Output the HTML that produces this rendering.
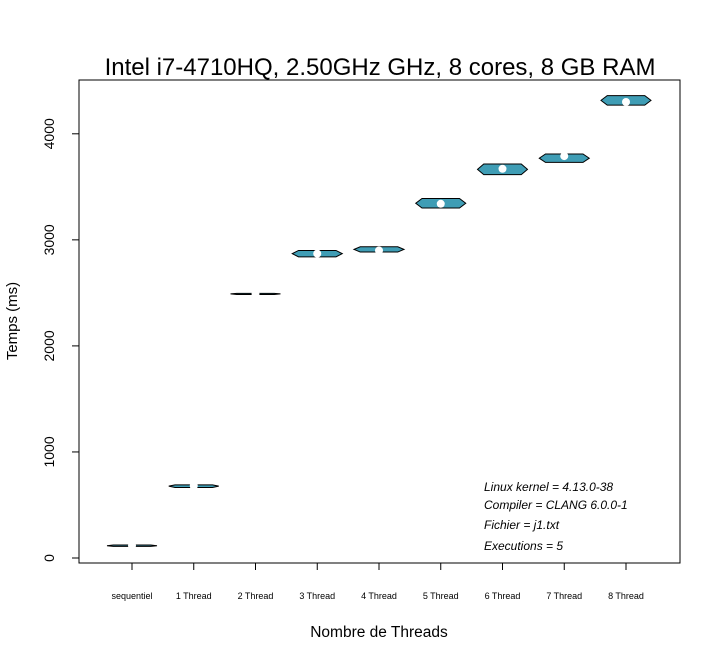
<!DOCTYPE html>
<html><head><meta charset="utf-8"><style>
body{margin:0;background:#fff;font-family:"Liberation Sans",sans-serif}
</style></head><body>
<svg id="chart" width="720" height="662" xmlns="http://www.w3.org/2000/svg" font-family="Liberation Sans, sans-serif">
<rect width="720" height="662" fill="#fff"/>
<text x="380" y="75" font-size="24" text-anchor="middle">Intel i7-4710HQ, 2.50GHz GHz, 8 cores, 8 GB RAM</text>
<rect x="79" y="80" width="601" height="483" fill="none" stroke="#000" stroke-width="1"/>
<text transform="translate(17,321) rotate(-90)" font-size="15" text-anchor="middle">Temps (ms)</text>
<text x="379" y="637" font-size="15.5" text-anchor="middle">Nombre de Threads</text>
<g font-size="12" font-style="italic">
<text x="484" y="491">Linux kernel = 4.13.0-38</text>
<text x="484" y="509">Compiler = CLANG 6.0.0-1</text>
<text x="484" y="529">Fichier = j1.txt</text>
<text x="484" y="550">Executions = 5</text>
</g>
<g id="axes"></g>
<g id="marks"></g>
</svg>
<script>
const categories=["sequentiel","1 Thread","2 Thread","3 Thread","4 Thread","5 Thread","6 Thread","7 Thread","8 Thread"];
const lowValues=[110,665,2485,2840,2885,3300,3615,3730,4270];
const highValues=[122,690,2495,2900,2935,3390,3715,3810,4360];
const medianValues=[115,680,2490,2870,2900,3340,3670,3790,4300];
const yTicks=[0,1000,2000,3000,4000];
const NS="http://www.w3.org/2000/svg";
function xPos(i){return 132+i*61.75;}
function yPos(v){return 558-v*0.10605;}
const axes=document.getElementById('axes'),marks=document.getElementById('marks');
function mk(tag,attrs,parent){const e=document.createElementNS(NS,tag);for(const k in attrs)e.setAttribute(k,attrs[k]);parent.appendChild(e);return e;}
const yl=mk('line',{x1:79,x2:79,y1:yPos(0),y2:yPos(4000),stroke:'#000'},axes);


yTicks.forEach(v=>{
  const t=mk('line',{x1:72,x2:79,y1:yPos(v),y2:yPos(v),stroke:'#000'},axes);
  
  
  const l=mk('text',{transform:`translate(54,${yPos(v)}) rotate(-90)`,'font-size':14,'text-anchor':'middle'},axes);
  l.textContent=v;
  
  
});
const xl=mk('line',{x1:xPos(0),x2:xPos(8),y1:563,y2:563,stroke:'#000'},axes);


categories.forEach((c,i)=>{
  const t=mk('line',{x1:xPos(i),x2:xPos(i),y1:563,y2:570,stroke:'#000'},axes);
  
  
  const l=mk('text',{x:xPos(i),y:599,'font-size':9,'text-anchor':'middle'},axes);
  l.textContent=c;
  
  
  const x=xPos(i),hi=yPos(highValues[i]),lo=yPos(lowValues[i]),md=yPos(medianValues[i]);
  const w=25,mid=(hi+lo)/2;
  const p=mk('polygon',{points:`${x-w*0.75},${hi} ${x+w*0.75},${hi} ${x+w},${mid} ${x+w*0.75},${lo} ${x-w*0.75},${lo} ${x-w},${mid}`,fill:'#3f9db5',stroke:'#000','stroke-width':1},marks);
  
  
  const d=mk('circle',{cx:x,cy:md,r:4,fill:'#fff'},marks);
  
  
});
</script>
</body></html>
